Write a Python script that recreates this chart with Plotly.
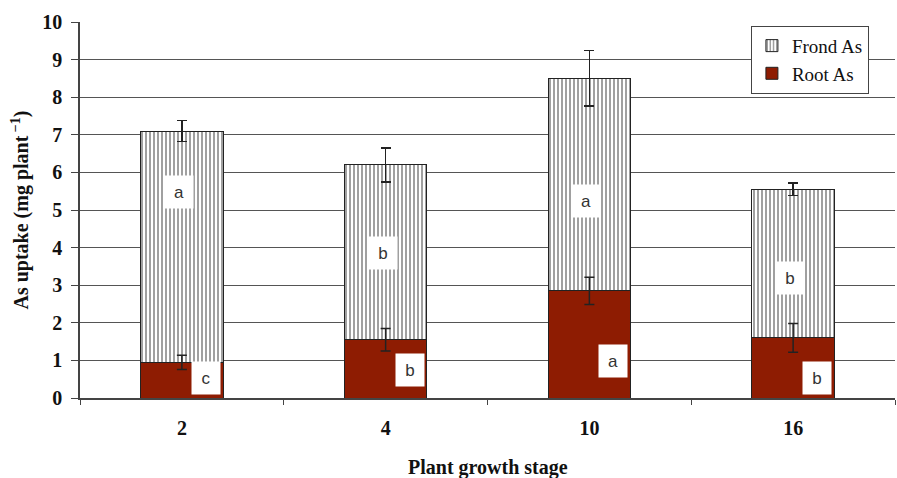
import plotly.graph_objects as go

# Plant growth stage (weeks) and arsenic uptake per plant
stages = ["2", "4", "10", "16"]
root_as = [0.95, 1.55, 2.85, 1.60]
frond_as = [6.15, 4.65, 5.65, 3.95]
root_err = [0.19, 0.30, 0.36, 0.38]
frond_err = [0.28, 0.45, 0.74, 0.17]

# Significance letters and where their boxes sit on each bar
frond_letters = ["a", "b", "a", "b"]
frond_letter_y = [5.48, 3.86, 5.24, 3.19]
root_letters = ["c", "b", "a", "b"]
root_letter_y = [0.53, 0.74, 0.98, 0.53]

SERIF = "Liberation Serif"
ROOT_COLOR = "#8E1C02"
ERR = dict(color="#222", thickness=1.5, width=5)

fig = go.Figure()
fig.add_bar(
    x=stages, y=root_as, name="Root As",
    marker=dict(color=ROOT_COLOR, line=dict(color="#222", width=1)),
)
fig.add_bar(
    x=stages, y=frond_as, name="Frond As",
    marker=dict(
        color="white",
        line=dict(color="#222", width=1),
        pattern=dict(shape="|", fgcolor="#111", bgcolor="white", size=4, solidity=0.4),
    ),
    error_y=dict(type="data", array=frond_err, **ERR),
)
# root error bars drawn on top of the stacked frond segment
fig.add_scatter(
    x=stages, y=root_as, mode="markers",
    marker=dict(size=1, color="rgba(0,0,0,0)"),
    error_y=dict(type="data", array=root_err, **ERR),
    showlegend=False, hoverinfo="skip",
)

annotations = []
for i, (t, y) in enumerate(zip(frond_letters, frond_letter_y)):
    annotations.append(dict(
        x=i, y=y, text=t, showarrow=False, xshift=-3,
        font=dict(family="Liberation Sans", size=17, color="#333"),
        bgcolor="white", width=26, height=30,
    ))
for i, (t, y) in enumerate(zip(root_letters, root_letter_y)):
    annotations.append(dict(
        x=i, y=y, text=t, showarrow=False, xshift=24,
        font=dict(family="Liberation Sans", size=17, color="#333"),
        bgcolor="white", width=26, height=30,
    ))
annotations.append(dict(
    xref="paper", yref="paper", x=0.5, y=-0.186, yanchor="middle",
    text="<b>Plant growth stage</b>", showarrow=False,
    font=dict(family=SERIF, size=20, color="#111"),
))

fig.update_layout(
    width=897, height=478,
    margin=dict(l=80, r=2, t=22, b=80),
    paper_bgcolor="white", plot_bgcolor="white",
    barmode="stack", bargap=0.595,
    showlegend=True,
    legend=dict(
        x=0.968, y=0.99, xanchor="right", yanchor="top",
        traceorder="reversed",
        bgcolor="white", bordercolor="#444", borderwidth=1,
        font=dict(family=SERIF, size=19, color="#111"),
        itemwidth=30, tracegroupgap=0,
    ),
    annotations=annotations,
    xaxis=dict(
        type="category", showgrid=False, range=[-0.5, 3.5],
        showline=True, linecolor="#444", linewidth=1.5,
        ticks="outside", tickson="boundaries", ticklen=5, tickcolor="#444",
        ticklabelstandoff=11,
        tickfont=dict(family=SERIF, size=20, color="#111", weight="bold"),
    ),
    yaxis=dict(
        range=[0, 10], dtick=1,
        showgrid=True, gridcolor="#555", gridwidth=1.3,
        showline=True, linecolor="#444", linewidth=1.5,
        ticks="outside", ticklen=7, tickcolor="#444",
        ticklabelstandoff=5,
        tickfont=dict(family=SERIF, size=20, color="#111", weight="bold"),
        title=dict(text="<b>As uptake (mg plant<sup> −1</sup>)</b>",
                   font=dict(family=SERIF, size=20, color="#111"), standoff=8),
        zeroline=False,
    ),
)

fig.write_html("out.html")
